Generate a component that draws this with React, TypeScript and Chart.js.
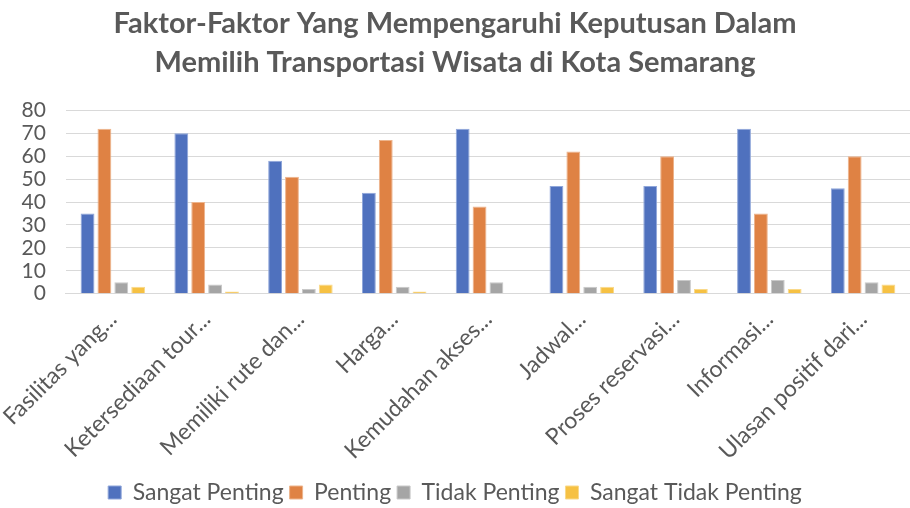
import React, { useEffect, useRef } from "react";
import { Chart, registerables } from "chart.js";

Chart.register(...registerables);

const categories = [
  "Fasilitas yang...",
  "Ketersediaan tour...",
  "Memiliki rute dan...",
  "Harga...",
  "Kemudahan akses...",
  "Jadwal...",
  "Proses reservasi...",
  "Informasi...",
  "Ulasan positif dari...",
];
const sangatPenting = [35, 70, 58, 44, 72, 47, 47, 72, 46];
const penting = [72, 40, 51, 67, 38, 62, 60, 35, 60];
const tidakPenting = [5, 4, 2, 3, 5, 3, 6, 6, 5];
const sangatTidakPenting = [3, 1, 4, 1, 0, 3, 2, 2, 4];

const titleLines = [
  "Faktor-Faktor Yang Mempengaruhi Keputusan Dalam",
  "Memilih Transportasi Wisata di Kota Semarang",
];

const FONT = "Lato, 'Open Sans', sans-serif";
const GRAY = "#595959";

export default function App() {
  const ref = useRef<HTMLCanvasElement | null>(null);
  useEffect(() => {
    document.body.style.margin = "0";
    if (!ref.current) return;
    const mk = (label: string, data: number[], color: string, edge: string) => ({
      label,
      data,
      backgroundColor: color,
      borderColor: edge,
      borderWidth: 1,
      barPercentage: 0.82,
      categoryPercentage: 0.72,
    });
    const chart = new Chart(ref.current, {
      type: "bar",
      data: {
        labels: categories,
        datasets: [
          mk("Sangat Penting", sangatPenting, "#4F71BE", "#8FA6DA"),
          mk("Penting", penting, "#DF8244", "#EDB48C"),
          mk("Tidak Penting", tidakPenting, "#A5A5A5", "#C9C9C9"),
          mk("Sangat Tidak Penting", sangatTidakPenting, "#F6C143", "#F9D98A"),
        ],
      },
      options: {
        animation: false,
        responsive: false,
        maintainAspectRatio: false,
        layout: { padding: { left: 0, right: 0, top: 4, bottom: -6 } },
        plugins: {
          title: {
            display: true,
            text: titleLines,
            color: GRAY,
            font: { family: FONT, size: 29, weight: "bold", lineHeight: 1.35 },
            padding: { top: 0, bottom: 28 },
          },
          legend: {
            position: "bottom",
            labels: {
              color: GRAY,
              font: { family: FONT, size: 23 },
              boxWidth: 13,
              boxHeight: 13,
              padding: 6,
            },
          },
          tooltip: { enabled: false },
        },
        scales: {
          x: {
            grid: { display: false },
            border: { color: "#d9d9d9", width: 1 },
            afterFit: (scale: any) => {
              scale.height += 6;
            },
            ticks: {
              color: GRAY,
              font: { family: FONT, size: 23 },
              maxRotation: 45,
              minRotation: 45,
              autoSkip: false,
              padding: 4,
            },
          },
          y: {
            min: 0,
            max: 80,
            ticks: {
              stepSize: 10,
              autoSkip: false,
              color: GRAY,
              font: { family: FONT, size: 21, lineHeight: 1 },
              padding: 20,
            },
            grid: { color: "#d9d9d9", lineWidth: 1, drawTicks: false },
            border: { display: false },
          },
        },
      },
    });
    return () => chart.destroy();
  }, []);
  return (
    <div style={{ width: 910, height: 508 }}>
      <canvas ref={ref} width={910} height={508} />
    </div>
  );
}
